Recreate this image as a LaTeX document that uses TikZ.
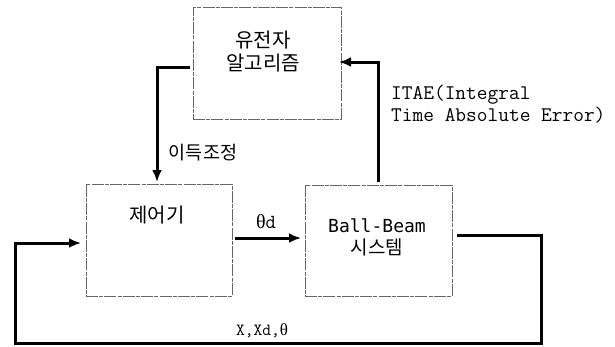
\documentclass[tikz,border=0pt]{standalone}
\usepackage{fontspec}
\usetikzlibrary{arrows.meta}
\newfontfamily\kr{Noto Sans CJK KR}
\newfontfamily\grk{Liberation Serif}
\newfontfamily\smono{DejaVu Sans Mono}
\begin{document}
\begin{tikzpicture}[x=1pt,y=-1pt,
  box/.style={draw=black!60, line width=0.7pt, dash pattern=on 12pt off 1.2pt on 4pt off 1.2pt, inner sep=0pt},
  conn/.style={line width=3pt, line join=miter, -{Latex[length=12pt,width=10pt]}},
  krtext/.style={font=\kr\fontsize{20pt}{23pt}\selectfont, align=center, inner sep=0pt},
  lbl/.style={font=\ttfamily\fontsize{20.8pt}{22pt}\selectfont, inner sep=0pt}]
\fill[white] (0,0) rectangle (615,346);
\useasboundingbox (0,0) rectangle (615,346);
% boxes
\node[box, minimum width=148pt, minimum height=112pt] (ga) at (267,63) {};
\node[box, minimum width=146pt, minimum height=112pt] (ctrl) at (159,240) {};
\node[box, minimum width=147pt, minimum height=111pt] (bb) at (378.5,240.5) {};
% box texts
\node[krtext] (gatext) at (263,51.5) {유전자\\알고리즘};
\node[krtext] (ctrltext) at (157,215) {제어기};
\node[inner sep=0pt, font=\smono\fontsize{18pt}{19pt}\selectfont] (bbtext1) at (377,226) {Ball-Beam};
\node[inner sep=0pt, font=\kr\fontsize{19pt}{19pt}\selectfont] (bbtext2) at (377,247) {시스템};
% coordinates
\coordinate (g1) at (190,67);
\coordinate (g2) at (157,67);
\coordinate (g3) at (157,182);
\coordinate (i1) at (378,182);
\coordinate (i2) at (378,62);
\coordinate (i3) at (339,62);
\coordinate (t1) at (235,238);
\coordinate (t2) at (301,238);
\coordinate (f1) at (457,235);
\coordinate (f2) at (541,235);
\coordinate (f3) at (541,343);
\coordinate (f4) at (15,343);
\coordinate (f5) at (15,243);
\coordinate (f6) at (81,243);
% connectors
\draw[conn] (g1) -- (g2) -- (g3);
\draw[conn] (i1) -- (i2) -- (i3);
\draw[conn] (t1) -- (t2);
\draw[conn] (f1) -- (f2) -- (f3) -- (f4) -- (f5) -- (f6);
% labels
\node[krtext, font=\kr\fontsize{18.5pt}{22pt}\selectfont] (gain) at (203,153) {이득조정};
\node[lbl, anchor=west, align=left] (itae) at (391,104) {ITAE(Integral\\Time Absolute Error)};
\node[lbl, font=\fontsize{20pt}{22pt}\selectfont] (thd) at (266,222) {{\grk θ}\ttfamily d};
\node[lbl, font=\ttfamily\fontsize{17pt}{18pt}\selectfont] (xs) at (262,331) {X,Xd,{\grk θ}};
\end{tikzpicture}
\end{document}
